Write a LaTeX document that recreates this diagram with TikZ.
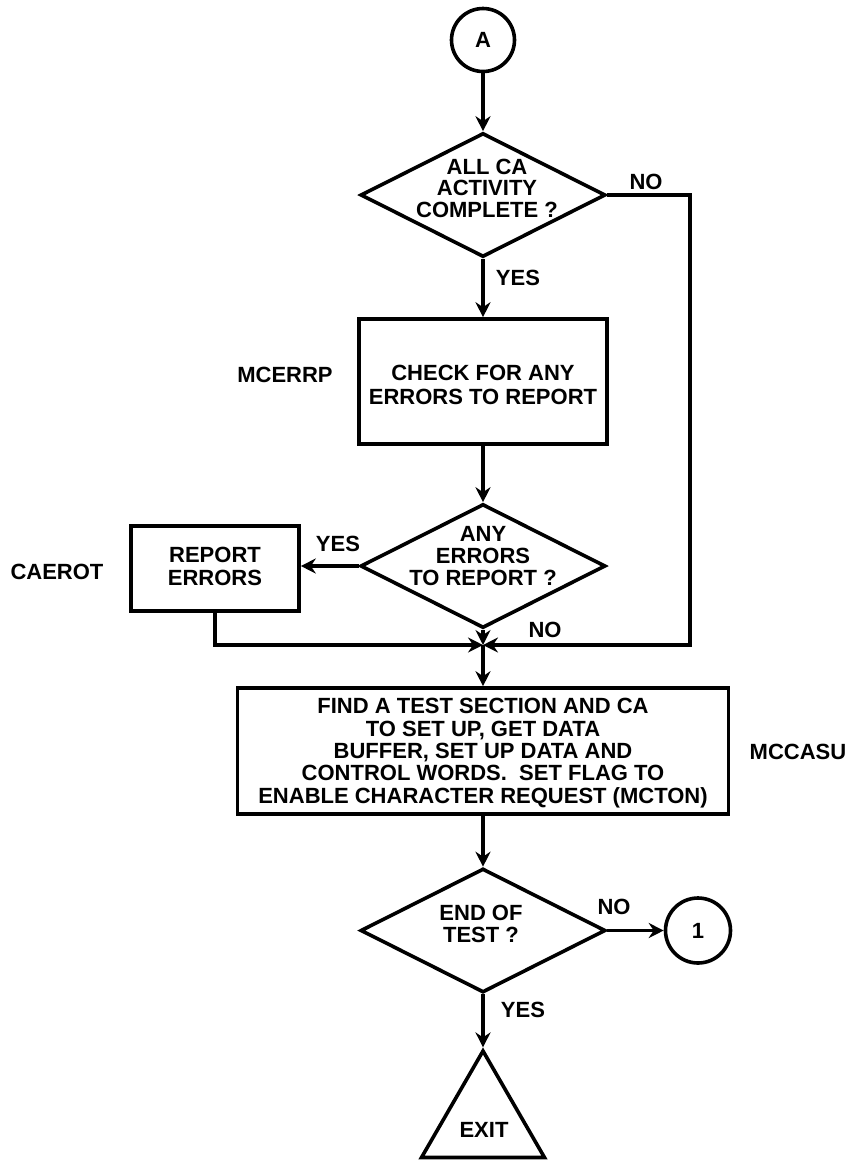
\documentclass[tikz,border=0pt]{standalone}
\usepackage{fontspec}
\setmainfont{Liberation Sans}
\usetikzlibrary{shapes.geometric,arrows.meta}
\begin{document}
\begin{tikzpicture}[x=1pt,y=-1pt,
  every node/.style={font=\bfseries\fontsize{22}{22.5}\selectfont},
  ln/.style={line width=3.6pt, line join=miter},
  arr/.style={ln,-{Stealth[length=15pt,width=15pt,inset=5pt]}},
  circ/.style={draw,ln,circle,minimum size=63pt,inner sep=0pt},
  dia/.style={draw,ln,diamond,minimum width=245pt,minimum height=124pt,inner sep=0pt},
  box/.style={draw,ln,rectangle,inner sep=0pt},
  txt/.style={align=center,inner sep=0pt},
  lbl/.style={inner sep=0pt}]
\useasboundingbox (0,0) rectangle (849,1160);
% shapes
\node[circ] (A) at (483,40) {A};
\node[dia] (D1) at (483,195) {};
\node[txt,font=\bfseries\fontsize{22}{21.5}\selectfont] (D1t) at (487,188) {ALL CA\\ACTIVITY\\COMPLETE ?};
\node[box,minimum width=248pt,minimum height=125pt] (R1) at (483,381.5) {};
\node[txt,font=\bfseries\fontsize{22}{24}\selectfont] (R1t) at (483,385) {CHECK FOR ANY\\ERRORS TO REPORT};
\node[dia] (D2) at (483,566) {};
\node[txt,font=\bfseries\fontsize{22}{22}\selectfont] (D2t) at (483,556) {ANY\\ERRORS\\TO REPORT ?};
\node[box,minimum width=168pt,minimum height=85pt] (R2) at (215,568.5) {};
\node[txt,font=\bfseries\fontsize{22}{23}\selectfont] (R2t) at (215,566.5) {REPORT\\ERRORS};
\coordinate (J) at (483,645);
\coordinate (K) at (690,645);
\node[box,minimum width=491pt,minimum height=126pt] (R3) at (483,751) {};
\node[txt,font=\bfseries\fontsize{22}{22.3}\selectfont] (R3t) at (483,753) {FIND A TEST SECTION AND CA\\TO SET UP, GET DATA\hspace*{16pt}\\BUFFER, SET UP DATA AND\\CONTROL WORDS.\ \ SET FLAG TO\\ENABLE CHARACTER REQUEST (MCTON)};
\node[dia] (D3) at (483,930.5) {};
\node[txt] (D3t) at (481,924) {END OF\\TEST ?};
\node[circ,minimum size=65pt] (C1) at (698,930.5) {1};
\node[draw,ln,regular polygon,regular polygon sides=3,minimum size=142pt,inner sep=0pt] (X) at (483,1122) {};
\node[lbl] (Xt) at (484,1130) {EXIT};
% labels
\node[lbl] (noA) at (646,182) {NO};
\node[lbl] (yesA) at (518,278) {YES};
\node[lbl] (mcerrp) at (285,375) {MCERRP};
\node[lbl] (yesB) at (338,544) {YES};
\node[lbl] (caerot) at (57,572) {CAEROT};
\node[lbl] (noB) at (545,630) {NO};
\node[lbl] (mccasu) at (798,752) {MCCASU};
\node[lbl] (noC) at (614,907) {NO};
\node[lbl] (yesC) at (523,1010) {YES};
% connectors
\draw[arr] (A.south) -- (D1.north);
\draw[arr] (D1.south) -- (R1.north);
\draw[arr] (R1.south) -- (D2.north);
\draw[arr] (D2.west) -- (D2.west -| R2.east);
\draw[arr] (D2.south) -- (J);
\draw[arr] (R2.south) |- (J);
\draw[arr] (D1.east) -| (K) -- (J);
\draw[arr] (J) -- (R3.north);
\draw[arr] (R3.south) -- (D3.north);
\draw[arr] (D3.east) -- (C1.west);
\draw[arr] (D3.south) -- (X.corner 1);
\end{tikzpicture}
\end{document}
